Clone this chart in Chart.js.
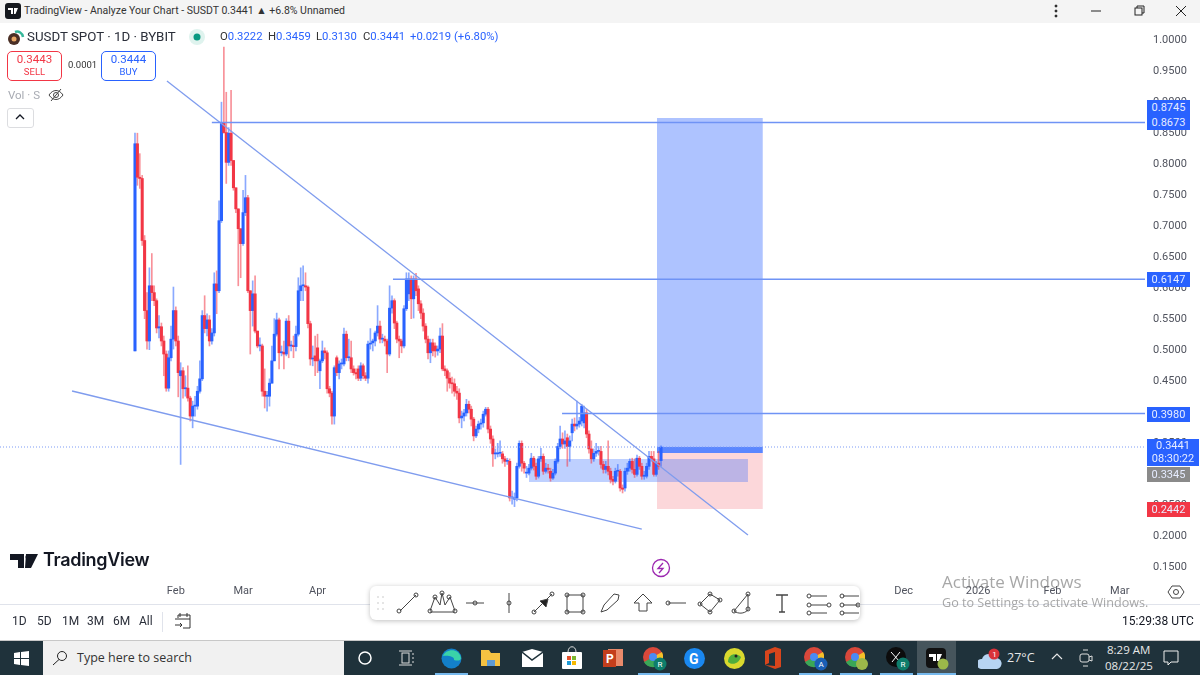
<!DOCTYPE html>
<html>
<head>
<meta charset="utf-8">
<title>SUSDT SPOT 1D</title>
<script src="https://cdn.jsdelivr.net/npm/chart.js@4"></script>
<style>
html, body { margin: 0; padding: 0; background: #fff; overflow: hidden; }
#stage { position: relative; width: 1200px; height: 675px; overflow: hidden; font-family: "Open Sans", sans-serif; color: #131722; }
#stage canvas { position: absolute; left: 0; top: 0; }
.abs { position: absolute; white-space: nowrap; }
.tag { position: absolute; left: 1147px; width: 43px; background: #2962ff; color: #e6ecff; font: 11px Roboto, sans-serif; text-align: center; line-height: 15px; }
.box { position: absolute; top: 51px; width: 53px; height: 28px; border: 1px solid; border-radius: 5px; background: #fff; text-align: center; font: 11.5px/14px Roboto, sans-serif; }
.box span { display: block; font-size: 9.5px; line-height: 12px; }
.range { position: absolute; top: 614px; font: 12px Roboto, sans-serif; color: #2a2e39; }
.ohlc { position: absolute; top: 30px; font: 11.3px Roboto, sans-serif; color: #2962ff; white-space: nowrap; }
.ohlc b { font-weight: 400; color: #333; }
#taskbar { position: absolute; left: 0; top: 640px; width: 1200px; height: 35px; background: #1f323b; border-top: 1px solid #c8c8c8; box-sizing: border-box; }
#taskbar svg, #toolbar svg { position: absolute; }
.under { position: absolute; top: 32px; height: 2px; background: #76b9ed; }
#toolbar { position: absolute; left: 370px; top: 586px; width: 490px; height: 34px; background: #fff; border-radius: 6px; box-shadow: 0 1px 5px rgba(0,0,0,.25); }
</style>
</head>
<body>
<div id="stage">
  <canvas id="chart" width="1200" height="675"></canvas>

  <!-- title bar -->
  <div class="abs" style="left:0;top:0;width:1200px;height:23px;background:#f4f4f4"></div>
  <svg class="abs" style="left:5px;top:3px" width="16" height="16"><rect width="16" height="16" rx="3" fill="#16191f"/><path d="M3 5h5v6H6V7H3zM9 5h4l-2.500 6H9z" fill="#fff"/></svg>
  <div class="abs" style="left:24px;top:4px;font:10.500px Roboto,sans-serif;color:#333">TradingView - Analyze Your Chart - SUSDT 0.3441 ▲ +6.8% Unnamed</div>
  <svg class="abs" style="left:1040px;top:2px" width="155" height="18" fill="none" stroke="#222"><circle cx="16" cy="4" r="1" fill="#222"/><circle cx="16" cy="9" r="1" fill="#222"/><circle cx="16" cy="14" r="1" fill="#222"/><path d="M51 9h10"/><rect x="95" y="6" width="7" height="7"/><path d="M97 6V4h7v7h-2"/><path d="M136 4l10 10M146 4l-10 10"/></svg>

  <!-- legend -->
  <svg class="abs" style="left:7px;top:28px" width="18" height="18"><circle cx="7" cy="11" r="6" fill="#4a2f25"/><circle cx="7" cy="11" r="2.500" fill="#e8a866"/><path d="M8 4a6 6 0 0 1 8 5" stroke="#35b79a" stroke-width="2.500" fill="none"/></svg>
  <div class="abs" style="left:27px;top:29px;font:13.300px Roboto,sans-serif;color:#2a2e39">SUSDT SPOT · 1D · BYBIT</div>
  <svg class="abs" style="left:188px;top:28px" width="18" height="18"><circle cx="9" cy="9" r="8" fill="#dff3ee"/><circle cx="9" cy="9" r="3.500" fill="#089981"/></svg>
  <div class="ohlc" style="left:220px"><b>O</b>0.3222</div>
  <div class="ohlc" style="left:268px"><b>H</b>0.3459</div>
  <div class="ohlc" style="left:316px"><b>L</b>0.3130</div>
  <div class="ohlc" style="left:363px"><b>C</b>0.3441</div>
  <div class="ohlc" style="left:410px">+0.0219</div>
  <div class="ohlc" style="left:454px">(+6.80%)</div>
  <div class="box" style="left:7px;color:#f23645;border-color:#f23645">0.3443<span>SELL</span></div>
  <div class="abs" style="left:68px;top:59px;font:9.500px Roboto,sans-serif;color:#333">0.0001</div>
  <div class="box" style="left:101px;color:#2962ff;border-color:#2962ff">0.3444<span>BUY</span></div>
  <div class="abs" style="left:8px;top:88px;font:11.500px Roboto,sans-serif;color:#a8abb3">Vol · S</div>
  <svg class="abs" style="left:48px;top:88px" width="16" height="14" fill="none" stroke="#444"><path d="M1 7c4-6 10-6 14 0-4 6-10 6-14 0z"/><circle cx="8" cy="7" r="2.500"/><path d="M3 13L13 1"/></svg>
  <div class="abs" style="left:7px;top:108px;width:25px;height:18px;border:1px solid #dcdde0;border-radius:3px"></div>
  <svg class="abs" style="left:15px;top:113px" width="10" height="8" fill="none" stroke="#131722" stroke-width="1.300"><path d="M1 6l4-4 4 4"/></svg>

  <!-- price tags -->
  <div class="tag" style="top:100px;height:30px">0.8745<br>0.8673</div>
  <div class="tag" style="top:272px;height:15px">0.6147</div>
  <div class="tag" style="top:407px;height:15px">0.3980</div>
  <div class="tag" style="top:439px;height:27px;width:52px;line-height:13px">0.3441<br>08:30:22</div>
  <div class="tag" style="top:467px;height:15px;background:#8a8a8a">0.3345</div>
  <div class="tag" style="top:502px;height:15px;background:#f23645">0.2442</div>

  <!-- brand, lightning -->
  <svg class="abs" style="left:10px;top:553px" width="32" height="16" fill="#131722"><path d="M0 1h14v14H8V7H0zM16 1h12l-7 14h-6z"/><circle cx="18" cy="4" r="2.500" fill="#131722"/></svg>
  <div class="abs" style="left:43px;top:549px;font:600 18px Inter,sans-serif;color:#131722;letter-spacing:-.3px">TradingView</div>
  <svg class="abs" style="left:651px;top:558px" width="20" height="20" fill="none"><circle cx="10" cy="10" r="8.500" stroke="#9c27b0" stroke-width="1.300"/><path d="M12 5L7 10.500h5L8 15" stroke="#9c27b0" stroke-width="1.300"/></svg>

  <!-- axis line, settings, bottom bar -->
  <div class="abs" style="left:0;top:604px;width:1200px;height:1px;background:#e0e3eb"></div>
  <svg class="abs" style="left:1167px;top:583px" width="18" height="18" fill="none" stroke="#444"><path d="M5 3h8l4 6-4 6H5L1 9z"/><circle cx="9" cy="9" r="2.500"/></svg>
  <div class="range" style="left:12px">1D</div>
  <div class="range" style="left:37px">5D</div>
  <div class="range" style="left:62px">1M</div>
  <div class="range" style="left:87px">3M</div>
  <div class="range" style="left:113px">6M</div>
  <div class="range" style="left:139px">All</div>
  <div class="abs" style="left:162px;top:612px;width:1px;height:20px;background:#e0e3eb"></div>
  <svg class="abs" style="left:174px;top:612px" width="18" height="18" fill="none" stroke="#333"><path d="M4 6V3h12v13H9M1 7h15M6 1v4M13 1v4M1 13h7M6 11l2 2-2 2"/></svg>
  <div class="abs" style="left:1122px;top:614px;font:12px Roboto,sans-serif;color:#131722">15:29:38 UTC</div>

  <!-- drawing toolbar -->
  <div id="toolbar">
    <svg style="left:0;top:0" width="490" height="34" fill="none" stroke="#444" stroke-width="1">
      <g fill="#ddd" stroke="none"><circle cx="8" cy="11" r="1"/><circle cx="13" cy="11" r="1"/><circle cx="8" cy="17" r="1"/><circle cx="13" cy="17" r="1"/><circle cx="8" cy="23" r="1"/><circle cx="13" cy="23" r="1"/></g>
      <path d="M30 25L46 9"/><circle cx="29" cy="25" r="2"/><circle cx="46" cy="9" r="2"/>
      <path d="M60 25l5-14 5 8 2-12 3 12 5-8 5 14M60 26h25"/><circle cx="60" cy="25" r="2"/><circle cx="65" cy="11" r="2"/><circle cx="72" cy="7" r="2"/><circle cx="79" cy="11" r="2"/><circle cx="85" cy="25" r="2"/>
      <path d="M96 17h18"/><circle cx="105" cy="17" r="2"/>
      <path d="M139 7v20"/><circle cx="139" cy="17" r="2"/>
      <path d="M164 26L182 8"/><circle cx="164" cy="26" r="2"/><circle cx="182" cy="8" r="2"/><path d="M170 15l6 6 2-8z" fill="#222"/>
      <rect x="197" y="9" width="16" height="17"/><circle cx="197" cy="9" r="2"/><circle cx="213" cy="9" r="2"/><circle cx="197" cy="26" r="2"/><circle cx="213" cy="26" r="2"/>
      <path d="M231 26l3-7 10-11 5 1-1 5-11 10z"/>
      <path d="M273 8l-9 9h5v8h8v-8h5z"/>
      <path d="M298 17h18"/><circle cx="298" cy="17" r="2"/>
      <path d="M330 18l10-10 10 6-10 12z"/><circle cx="330" cy="18" r="2"/><circle cx="340" cy="8" r="2"/><circle cx="350" cy="14" r="2"/><circle cx="340" cy="26" r="2"/>
      <path d="M364 25l14-17v16M364 25c4 3 10 3 14-1"/><circle cx="364" cy="25" r="2"/><circle cx="378" cy="8" r="2"/><circle cx="378" cy="23" r="2"/>
      <path d="M406 9h12M412 9v17M409 26h6" stroke-width="1.300"/>
      <path d="M441 10h16M441 19h16M441 27h16"/><circle cx="439" cy="10" r="2"/><circle cx="439" cy="19" r="2"/><circle cx="439" cy="27" r="2"/><circle cx="459" cy="19" r="2"/>
      <path d="M473 10h16M473 19h16M473 27h16"/><circle cx="472" cy="10" r="2"/><circle cx="472" cy="19" r="2"/><circle cx="472" cy="27" r="2"/><circle cx="488" cy="19" r="2"/>
    </svg>
  </div>

  <!-- watermark -->
  <div class="abs" style="left:942px;top:570px;font:17px 'Open Sans',sans-serif;color:rgba(120,120,120,.65)">Activate Windows</div>
  <div class="abs" style="left:942px;top:594px;font:12.600px 'Open Sans',sans-serif;color:rgba(120,120,120,.65)">Go to Settings to activate Windows.</div>

  <!-- windows taskbar -->
  <div id="taskbar">
    <svg style="left:14px;top:10px" width="15" height="15" fill="#fff"><path d="M0 2l6-1v6H0zM7 1l8-1v7H7zM0 8h6v6l-6-1zM7 8h8v7l-8-1z"/></svg>
    <div class="abs" style="left:43px;top:0;width:301px;height:34px;background:#f1f1f1"></div>
    <svg style="left:52px;top:9px" width="16" height="16" fill="none" stroke="#222"><circle cx="10" cy="6" r="4.500"/><path d="M7 9.500L1 15"/></svg>
    <div class="abs" style="left:77px;top:8px;font:12.500px 'Open Sans',sans-serif;color:#333">Type here to search</div>
    <svg style="left:356px;top:8px" width="18" height="18" fill="none" stroke="#fff" stroke-width="1.500"><circle cx="9" cy="9" r="6"/></svg>
    <svg style="left:399px;top:9px" width="16" height="16" fill="none" stroke="#ddd"><rect x="3" y="3" width="7" height="10"/><path d="M0 1h13M0 15h13M13 4h2M13 8h2M13 12h2"/></svg>
    <svg style="left:441px;top:7px" width="21" height="21"><circle cx="10.500" cy="10.500" r="10" fill="#1380c9"/><path d="M2 8c2-7 16-9 18 2 0 3-4 3-7 2 1-4-7-5-11-4z" fill="#3ad3a8"/></svg>
    <svg style="left:481px;top:8px" width="20" height="18"><path d="M0 1h8l2 3h9v13H0z" fill="#f5c242"/><rect x="6" y="11" width="8" height="6" fill="#5d9ad4"/></svg>
    <svg style="left:522px;top:8px" width="21" height="18"><path d="M0 3l10-3 11 3v15H0z" fill="#fff"/><path d="M0 3l10 8 11-8" fill="none" stroke="#1f323b" stroke-width="1.500"/></svg>
    <svg style="left:562px;top:5px" width="20" height="23"><rect y="6" width="20" height="17" rx="1" fill="#fff"/><path d="M6 6c0-7 8-7 8 0" fill="none" stroke="#ddd"/><rect x="5" y="10" width="4" height="4" fill="#e5512c"/><rect x="10" y="10" width="4" height="4" fill="#7cb82f"/><rect x="5" y="15" width="4" height="4" fill="#1c9ad6"/><rect x="10" y="15" width="4" height="4" fill="#f6b900"/></svg>
    <svg style="left:603px;top:7px" width="20" height="20"><rect x="5" y="1" width="15" height="17" fill="#e98a6b"/><rect y="2" width="13" height="17" fill="#c43e1c"/><text x="3" y="15" font-size="12" font-weight="700" fill="#fff" font-family="Roboto">P</text></svg>
    <svg style="left:643px;top:6px" width="24" height="24"><circle cx="10" cy="10" r="10" fill="#d9483b"/><path d="M10 10L1 15a10 10 0 0 0 16 2z" fill="#3aa757"/><path d="M10 10l7 7a10 10 0 0 0 2-12z" fill="#f6c028"/><circle cx="10" cy="10" r="4" fill="#4a8af4"/><circle cx="17" cy="17" r="6.500" fill="#0e7d6b"/><text x="14.500" y="20" font-size="8" fill="#fff" font-family="Roboto">R</text></svg>
    <svg style="left:684px;top:7px" width="21" height="21"><circle cx="10.500" cy="10.500" r="10.500" fill="#1a88f0"/><text x="5" y="15.500" font-size="14" font-weight="700" fill="#fff" font-family="Roboto">G</text></svg>
    <svg style="left:724px;top:7px" width="21" height="21"><circle cx="10.500" cy="10.500" r="10.500" fill="#d9d92e"/><path d="M4 14c0-8 8-10 13-5-2 6-8 9-13 5z" fill="#4fae3c"/><circle cx="12" cy="8" r="1.500" fill="#222"/></svg>
    <svg style="left:765px;top:6px" width="16" height="22"><path d="M0 4l10-4 6 2v18l-6 2-10-4 10 1V5L4 7v9l-4 2z" fill="#d8451c"/></svg>
    <svg style="left:804px;top:6px" width="24" height="24"><circle cx="10" cy="10" r="10" fill="#d9483b"/><path d="M10 10L1 15a10 10 0 0 0 16 2z" fill="#3aa757"/><path d="M10 10l7 7a10 10 0 0 0 2-12z" fill="#f6c028"/><circle cx="10" cy="10" r="4" fill="#4a8af4"/><circle cx="17" cy="17" r="6.500" fill="#1a5fb4"/><text x="14.500" y="20" font-size="8" fill="#fff" font-family="Roboto">A</text></svg>
    <svg style="left:845px;top:6px" width="24" height="24"><circle cx="10" cy="10" r="10" fill="#d9483b"/><path d="M10 10L1 15a10 10 0 0 0 16 2z" fill="#3aa757"/><path d="M10 10l7 7a10 10 0 0 0 2-12z" fill="#f6c028"/><circle cx="10" cy="10" r="4" fill="#4a8af4"/><circle cx="17" cy="17" r="6" fill="#9bb84a"/></svg>
    <svg style="left:886px;top:6px" width="24" height="24"><circle cx="10" cy="10" r="10" fill="#0c0c0c"/><path d="M5 5l9 10M14 5L6 15" stroke="#fff"/><circle cx="17" cy="17" r="6.500" fill="#0e7d6b"/><text x="14.500" y="20" font-size="8" fill="#fff" font-family="Roboto">R</text></svg>
    <div class="abs" style="left:917px;top:0;width:39px;height:34px;background:#46555c"></div>
    <svg style="left:926px;top:7px" width="24" height="22"><rect width="20" height="20" rx="4" fill="#111"/><path d="M3 6h7v7H7V9H3zM11 6h5l-3 7h-2z" fill="#fff"/><circle cx="17" cy="16" r="5.500" fill="#9bb84a"/></svg>
    <svg style="left:978px;top:6px" width="24" height="24"><path d="M3 22a5 5 0 0 1 1-10 7 7 0 0 1 13-1 5.500 5.500 0 0 1 2 11z" fill="#b7d4f2"/><circle cx="16" cy="7" r="5.500" fill="#d9323a"/><text x="14.300" y="10" font-size="8" fill="#fff" font-family="Roboto">1</text></svg>
    <div class="abs" style="left:1007px;top:8px;font:12.500px 'Open Sans',sans-serif;color:#e8e8e8">27°C</div>
    <svg style="left:1051px;top:11px" width="12" height="8" fill="none" stroke="#e8e8e8" stroke-width="1.200"><path d="M1 7l5-5 5 5"/></svg>
    <svg style="left:1078px;top:8px" width="16" height="18" fill="none" stroke="#ddd"><path d="M5 1h5M5 17h5"/><rect x="2" y="5" width="9" height="8" rx="2"/><path d="M11 8l3-1v5l-3-1"/></svg>
    <div class="abs" style="left:1107px;top:1px;font:11.500px 'Open Sans',sans-serif;color:#e8e8e8">8:29 AM</div>
    <div class="abs" style="left:1105px;top:17px;font:11.500px 'Open Sans',sans-serif;color:#e8e8e8">08/22/25</div>
    <svg style="left:1163px;top:9px" width="16" height="17" fill="none" stroke="#eee"><path d="M1 1h14v11H8l-3 3v-3H1z"/></svg>
    <div class="under" style="left:435px;width:33px"></div>
    <div class="under" style="left:638px;width:32px"></div>
    <div class="under" style="left:799px;width:33px"></div>
    <div class="under" style="left:840px;width:32px"></div>
    <div class="under" style="left:880px;width:33px"></div>
    <div class="under" style="left:917px;width:39px"></div>
  </div>
</div>

<script>
// --- OHLC diário (15 jan 2025 = dia 0) ---
const opens = [
  .499,.833,.779,.777,.677,.564,.515,.604,.593,.580,
  .536,.538,.515,.494,.439,.488,.518,.564,.515,.459,
  .467,.438,.439,.423,.394,.410,.410,.434,.454,.556,
  .535,.549,.515,.528,.607,.596,.709,.867,.851,.803,
  .850,.806,.762,.728,.696,.672,.722,.746,.596,.564,
  .591,.531,.507,.507,.434,.426,.426,.447,.483,.526,
  .549,.496,.497,.494,.547,.507,.507,.506,.526,.596,
  .604,.604,.602,.543,.486,.491,.504,.467,.483,.499,
  .496,.438,.431,.394,.488,.464,.478,.478,.526,.488,
  .488,.470,.464,.470,.455,.475,.459,.455,.510,.512,
  .515,.528,.539,.518,.518,.515,.494,.568,.580,.544,
  .518,.515,.507,.567,.591,.615,.583,.615,.599,.575,
  .560,.539,.518,.496,.512,.507,.499,.502,.523,.470,
  .467,.455,.447,.446,.434,.431,.391,.394,.399,.413,
  .405,.389,.362,.373,.381,.383,.397,.405,.373,.357,
  .333,.333,.334,.333,.325,.321,.321,.262,.260,.262,
  .313,.350,.318,.302,.302,.310,.326,.313,.297,.325,
  .329,.305,.310,.305,.294,.302,.321,.345,.357,.349,
  .359,.345,.367,.381,.378,.381,.386,.383,.399,.365,
  .341,.325,.334,.337,.337,.316,.308,.313,.305,.292,
  .289,.305,.305,.278,.278,.305,.310,.321,.308,.300,
  .326,.313,.297,.297,.313,.329,.325,.300,.318,.3222
];
const highs = [
  .850,.850,.817,.782,.685,.593,.633,.656,.604,.583,
  .556,.544,.523,.499,.499,.539,.602,.570,.523,.480,
  .472,.459,.475,.426,.418,.426,.442,.483,.564,.588,
  .559,.556,.535,.625,.628,.741,.900,.989,.916,.859,
  .919,.806,.762,.728,.696,.758,.782,.750,.596,.612,
  .620,.531,.520,.510,.470,.434,.454,.507,.551,.560,
  .552,.507,.515,.551,.556,.515,.523,.539,.617,.633,
  .636,.625,.604,.547,.507,.523,.526,.486,.515,.504,
  .499,.442,.434,.475,.491,.483,.486,.536,.531,.518,
  .515,.475,.470,.475,.480,.478,.464,.515,.535,.518,
  .531,.572,.547,.526,.523,.518,.604,.588,.583,.547,
  .523,.518,.572,.625,.625,.620,.620,.624,.604,.580,
  .567,.543,.523,.518,.518,.512,.507,.536,.543,.475,
  .470,.464,.457,.454,.442,.438,.402,.405,.421,.418,
  .410,.392,.378,.386,.389,.402,.408,.408,.378,.362,
  .341,.350,.354,.337,.329,.326,.325,.273,.270,.318,
  .354,.354,.321,.313,.316,.334,.329,.318,.329,.342,
  .333,.318,.316,.310,.308,.325,.350,.378,.367,.370,
  .365,.362,.389,.391,.418,.392,.413,.410,.405,.370,
  .354,.341,.350,.345,.345,.321,.321,.354,.310,.297,
  .310,.316,.308,.283,.310,.318,.325,.326,.325,.331,
  .329,.318,.305,.318,.337,.337,.337,.321,.337,.3459
];
const lows = [
  .499,.766,.761,.669,.551,.502,.501,.580,.572,.528,
  .520,.507,.459,.434,.434,.483,.502,.507,.425,.316,
  .423,.426,.418,.386,.375,.394,.405,.431,.451,.528,
  .523,.507,.510,.523,.559,.593,.706,.850,.769,.798,
  .798,.758,.722,.604,.617,.669,.717,.593,.494,.539,
  .528,.504,.499,.426,.407,.402,.410,.447,.483,.523,
  .470,.491,.470,.491,.488,.499,.488,.499,.523,.580,
  .580,.596,.536,.476,.475,.459,.464,.438,.480,.486,
  .431,.425,.381,.381,.459,.454,.470,.475,.483,.483,
  .464,.460,.454,.451,.451,.454,.451,.447,.502,.499,
  .507,.523,.512,.512,.507,.464,.491,.560,.535,.512,
  .488,.496,.504,.564,.580,.551,.552,.588,.564,.551,
  .531,.512,.486,.480,.491,.489,.492,.496,.467,.459,
  .434,.439,.431,.426,.421,.383,.375,.386,.394,.399,
  .378,.354,.359,.367,.373,.376,.394,.367,.350,.313,
  .325,.328,.329,.318,.313,.316,.257,.252,.248,.257,
  .310,.305,.302,.295,.299,.307,.307,.292,.294,.321,
  .300,.302,.302,.289,.292,.299,.318,.341,.342,.342,
  .313,.321,.354,.370,.373,.376,.378,.375,.359,.334,
  .318,.321,.329,.331,.310,.302,.302,.299,.286,.283,
  .286,.297,.273,.270,.273,.300,.305,.302,.295,.297,
  .308,.292,.292,.294,.308,.321,.297,.297,.308,.3130
];
const closes = [
  .833,.779,.777,.677,.564,.515,.604,.593,.580,.536,
  .538,.515,.494,.439,.488,.518,.564,.515,.464,.467,
  .438,.439,.423,.394,.410,.410,.434,.454,.556,.535,
  .549,.515,.528,.607,.596,.709,.867,.851,.803,.850,
  .806,.762,.728,.696,.672,.722,.746,.596,.564,.591,
  .531,.507,.507,.434,.426,.426,.447,.483,.526,.549,
  .496,.497,.494,.547,.507,.507,.506,.526,.596,.604,
  .604,.602,.543,.486,.486,.483,.483,.483,.499,.496,
  .438,.431,.394,.472,.464,.478,.478,.526,.488,.488,
  .470,.464,.462,.455,.475,.459,.455,.510,.510,.515,
  .528,.539,.518,.518,.515,.494,.568,.580,.544,.518,
  .515,.507,.567,.615,.615,.583,.615,.596,.575,.560,
  .539,.518,.496,.512,.499,.499,.502,.523,.470,.467,
  .455,.447,.446,.434,.431,.391,.394,.399,.413,.405,
  .389,.362,.373,.381,.381,.397,.405,.373,.357,.333,
  .333,.334,.334,.325,.321,.321,.262,.262,.262,.313,
  .350,.318,.310,.302,.310,.326,.313,.297,.325,.329,
  .305,.310,.308,.294,.302,.321,.345,.357,.349,.354,
  .345,.354,.381,.378,.381,.386,.410,.399,.365,.341,
  .325,.334,.337,.337,.316,.308,.313,.305,.292,.289,
  .305,.305,.278,.276,.305,.310,.321,.308,.300,.326,
  .313,.297,.297,.313,.329,.325,.300,.318,.313,.3441
];

// eixo de tempo: índice do dia em que cada mês começa
const monthDays = [17, 45, 76, 106, 137, 167, 198, 229, 259, 290, 320, 351, 382, 410];
const monthLabels = ["Feb", "Mar", "Apr", "May", "Jun", "Jul", "Aug", "Sep", "Oct", "Nov", "Dec", "2026", "Feb", "Mar"];
const priceTicks = [1, .95, .9, .85, .8, .75, .7, .65, .6, .55, .5, .45, .4, .35, .3, .25, .2, .15];

// desenhos: níveis, linhas de tendência e zonas
const levelTop = { from: 32, price: .8673 };
const levelMid = { from: 107.4, price: .6147 };
const levelLow = { from: 177.8, price: .3980 };
const lastPrice = .3441;
const trendDays = [13.3, 255.2];
const trendPrices = [.9341, .2023];
const supportDays = [-26.2, 211];
const supportPrices = [.4344, .2119];
const positionDays = [217.3, 261.4];
const targetPrice = .8745;
const entryPrice = .3345;
const stopPrice = .2442;
const zoneDays = [164, 255.2];
const zonePrices = [.3248, .2877];

const firstDay = -56.2, lastDay = 420.5;
const upColor = "#2962ff", downColor = "#f23645";

const isUp = closes.map((c, i) => c >= opens[i]);

function flatLine(from, to, price, color, width, extra) {
    return Object.assign({
        type: "line",
        data: [{ x: from, y: price }, { x: to, y: price }],
        borderColor: color,
        borderWidth: width,
        pointRadius: 0,
        order: 1
    }, extra || {});
}

function zone(days, top, bottom, color, order) {
    return {
        type: "line",
        data: [{ x: days[0], y: top }, { x: days[1], y: top }],
        borderWidth: 0,
        borderColor: "transparent",
        backgroundColor: color,
        fill: { value: bottom },
        pointRadius: 0,
        order: order
    };
}

new Chart(document.getElementById("chart").getContext("2d"), {
    type: "bar",
    data: {
        datasets: [
            zone(positionDays, targetPrice, entryPrice, "rgba(41,98,255,.38)", 12),
            zone(positionDays, entryPrice, stopPrice, "rgba(242,54,69,.2)", 12),
            zone(positionDays, lastPrice, entryPrice, "rgba(41,98,255,.62)", 11),
            zone(zoneDays, zonePrices[0], zonePrices[1], "rgba(41,98,255,.3)", 10),
            {
                label: "wicks",
                data: closes.map((_, i) => ({ x: i, y: [lows[i], highs[i]] })),
                backgroundColor: isUp.map(up => up ? "rgba(41,98,255,.55)" : "rgba(242,54,69,.55)"),
                barThickness: 1,
                grouped: false,
                order: 6
            },
            {
                label: "bodies",
                data: closes.map((c, i) => ({ x: i, y: [opens[i], c] })),
                backgroundColor: isUp.map(up => up ? upColor : downColor),
                barThickness: 2.4,
                minBarLength: 1,
                grouped: false,
                order: 5
            },
            flatLine(firstDay, lastDay, lastPrice, "#7d9bf5", 1, { borderDash: [1, 2] }),
            flatLine(levelTop.from, lastDay, levelTop.price, "#6f93f5", 1.5),
            flatLine(levelMid.from, lastDay, levelMid.price, "#6f93f5", 1.5),
            flatLine(levelLow.from, lastDay, levelLow.price, "#6f93f5", 1.5),
            {
                type: "line",
                data: trendDays.map((d, i) => ({ x: d, y: trendPrices[i] })),
                borderColor: "#7f9cee",
                borderWidth: 1.3,
                pointRadius: 0,
                order: 1
            },
            {
                type: "line",
                data: supportDays.map((d, i) => ({ x: d, y: supportPrices[i] })),
                borderColor: "#7f9cee",
                borderWidth: 1.3,
                pointRadius: 0,
                order: 1
            }
        ]
    },
    options: {
        responsive: false,
        animation: false,
        layout: { padding: { top: 28, bottom: 71, left: 0, right: 0 } },
        plugins: { legend: { display: false }, tooltip: { enabled: false } },
        scales: {
            x: {
                type: "linear",
                min: firstDay,
                max: lastDay,
                offset: false,
                grid: { display: false, offset: false, drawTicks: false },
                border: { display: false },
                afterFit: s => { s.height = 24; },
                afterBuildTicks: s => { s.ticks = monthDays.map(v => ({ value: v })); },
                ticks: {
                    autoSkip: false,
                    maxRotation: 0,
                    padding: 5,
                    color: "#50535e",
                    font: { family: "Roboto", size: 11 },
                    callback: v => monthLabels[monthDays.indexOf(v)]
                }
            },
            y: {
                position: "right",
                min: .1297,
                max: 1.0196,
                grid: { display: false, drawTicks: false },
                border: { display: false },
                afterFit: s => { s.width = 55; },
                afterBuildTicks: s => { s.ticks = priceTicks.map(v => ({ value: v })); },
                ticks: {
                    autoSkip: false,
                    padding: 8,
                    color: "#50535e",
                    font: { family: "Roboto", size: 11 },
                    callback: v => v.toFixed(4)
                }
            }
        }
    }
});
</script>
</body>
</html>
